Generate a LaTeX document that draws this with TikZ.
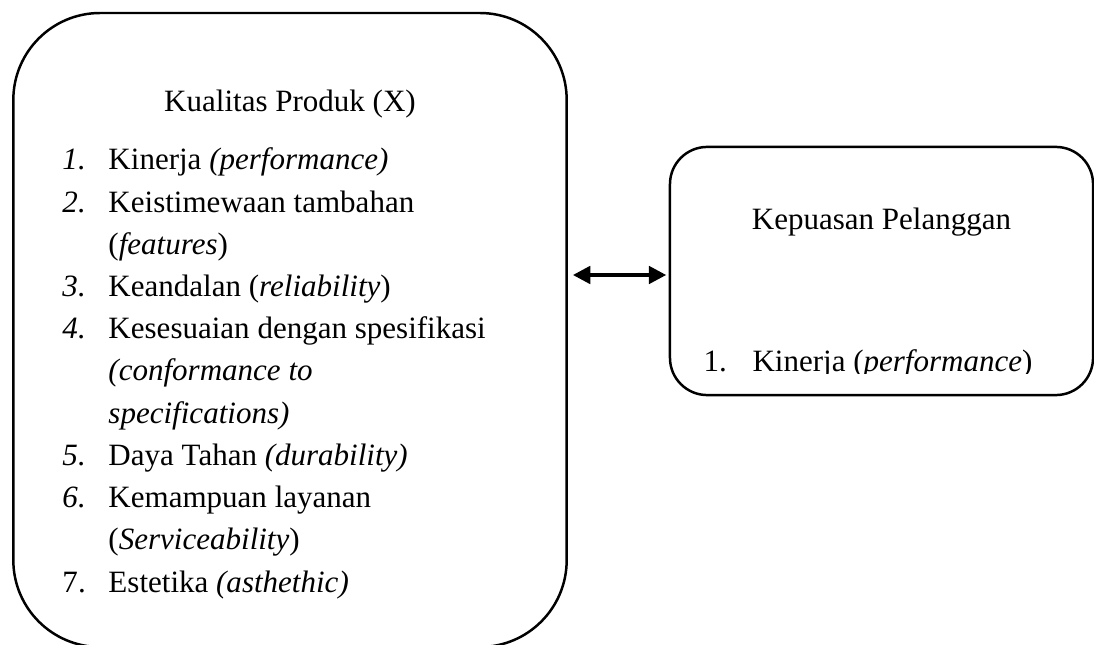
\documentclass[tikz,border=0pt]{standalone}
\usepackage{fontspec}
\setmainfont{Liberation Serif}
\usetikzlibrary{positioning,arrows.meta}

\begin{document}
\begin{tikzpicture}[x=0.403pt,y=-0.403pt,
    font=\fontsize{12.5}{17}\selectfont,
    box/.style={draw,line width=1pt,rectangle},
    item/.style={anchor=base west,inner sep=0pt},
    biarrow/.style={{Triangle[length=7pt,width=7pt]}-{Triangle[length=7pt,width=7pt]},line width=1.5pt}]
  \useasboundingbox (0,0) rectangle (1094,645);
  \clip (0,0) rectangle (1094,645);

  % kotak variabel
  \node[box,rounded corners=35pt,minimum width=223pt,minimum height=255.5pt] (kualitas) at (290,330) {};
  \node[box,rounded corners=15pt,minimum width=170.5pt,minimum height=100pt] (kepuasan) at (881.5,271) {};
  \coordinate (panah) at (kepuasan.west |- 0,275);

  % isi kotak kiri
  \node[anchor=base] (judulX) at (290,112) {Kualitas Produk (X)};
  \foreach \num/\txt [count=\i from 0] in {
      \textit{1.}/{Kinerja \textit{(performance)}},
      \textit{2.}/{Keistimewaan tambahan},
      {}/{(\textit{features})},
      \textit{3.}/{Keandalan (\textit{reliability})},
      \textit{4.}/{Kesesuaian dengan spesifikasi},
      {}/{\textit{(conformance to}},
      {}/{\textit{specifications)}},
      \textit{5.}/{Daya Tahan \textit{(durability)}},
      \textit{6.}/{Kemampuan layanan},
      {}/{(\textit{Serviceability})},
      7./{Estetika \textit{(asthethic)}}}
  {
    \node[item] (no\i) at (62,170+42.2*\i) {\num};
    \node[item] (it\i) at (108,170+42.2*\i) {\txt};
  }

  % isi kotak kanan
  \node[anchor=base] (judulY) at (881.5,230) {Kepuasan Pelanggan};
  \begin{scope}
    \clip (670,147) rectangle (1093,374);
    \node[item] (noY) at (703,372) {1.};
    \node[item] (itY) at (752,372) {Kinerja (\textit{performance})};
  \end{scope}

  \draw[biarrow,shorten <=2pt,shorten >=1pt] (kualitas.east |- panah) -- (panah);
\end{tikzpicture}
\end{document}
